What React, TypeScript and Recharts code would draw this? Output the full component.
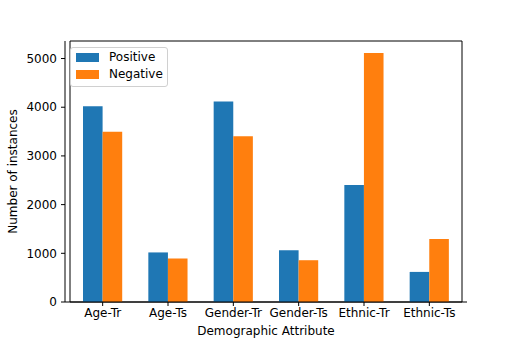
import React from 'react';
import { BarChart, Bar, XAxis, YAxis, Legend, Label, ReferenceArea } from 'recharts';

const categories = ['Age-Tr', 'Age-Ts', 'Gender-Tr', 'Gender-Ts', 'Ethnic-Tr', 'Ethnic-Ts'];
const positiveValues = [4020, 1018, 4115, 1062, 2405, 618];
const negativeValues = [3495, 893, 3402, 858, 5115, 1292];
const yTicks = [0, 1000, 2000, 3000, 4000, 5000];
const yMax = 5360;

const data = categories.map((c, i) => ({
  name: c,
  Positive: positiveValues[i],
  Negative: negativeValues[i],
}));

const FONT = 'DejaVu Sans, sans-serif';
const BLUE = '#1f77b4';
const ORANGE = '#ff7f0e';

const LegendBox = () => (
  <div
    style={{
      width: 98,
      height: 40,
      border: '1px solid #d0d0d0',
      borderRadius: 3,
      background: 'rgba(255,255,255,0.8)',
      fontFamily: FONT,
      fontSize: 12,
      color: '#000',
      boxSizing: 'border-box',
      position: 'relative',
    }}
  >
    {[
      { label: 'Positive', color: BLUE, top: 5 },
      { label: 'Negative', color: ORANGE, top: 22.5 },
    ].map((it) => (
      <div key={it.label} style={{ position: 'absolute', left: 5, top: it.top, height: 9, display: 'flex', alignItems: 'center' }}>
        <div style={{ width: 23, height: 9, background: it.color }} />
        <span style={{ marginLeft: 10, lineHeight: '9px', whiteSpace: 'nowrap' }}>{it.label}</span>
      </div>
    ))}
  </div>
);

export default function App() {
  return (
    <div style={{ position: 'absolute', left: 0, top: 0, width: 518, height: 345, background: '#fff' }}>
      <BarChart
        width={518}
        height={345}
        data={data}
        margin={{ top: 41, right: 51, left: 0, bottom: 0 }}
        barGap={0}
      >
        <XAxis
          dataKey="name"
          height={43}
          padding={{ left: 5, right: 5 }}
          axisLine={{ stroke: '#000', strokeWidth: 1 }}
          tickLine={{ stroke: '#000' }}
          tickSize={4}
          tickMargin={2}
          interval={0}
          tick={{ fill: '#000', fontSize: 12, fontFamily: FONT }}
        >
          <Label
            value="Demographic Attribute"
            position="insideBottom"
            offset={10}
            style={{ fill: '#000', fontSize: 12, fontFamily: FONT }}
          />
        </XAxis>
        <YAxis
          width={65}
          domain={[0, yMax]}
          ticks={yTicks}
          allowDataOverflow
          axisLine={{ stroke: '#000', strokeWidth: 1 }}
          tickLine={{ stroke: '#000' }}
          tickSize={4}
          tickMargin={4}
          tick={{ fill: '#000', fontSize: 12, fontFamily: FONT }}
        >
          <Label
            value="Number of instances"
            angle={-90}
            position="insideLeft"
            offset={13}
            style={{ fill: '#000', fontSize: 12, fontFamily: FONT, textAnchor: 'middle' }}
          />
        </YAxis>
        <Legend
          layout="vertical"
          align="center"
          verticalAlign="middle"
          wrapperStyle={{ left: 70, top: 46.5, width: 98, height: 40 }}
          content={() => <LegendBox />}
        />
        <Bar dataKey="Positive" fill={BLUE} barSize={19.6} isAnimationActive={false} />
        <Bar dataKey="Negative" fill={ORANGE} barSize={19.6} isAnimationActive={false} />
        <ReferenceArea y1={0} y2={yMax} fill="none" stroke="#000" strokeWidth={1} ifOverflow="visible" />
      </BarChart>
    </div>
  );
}
